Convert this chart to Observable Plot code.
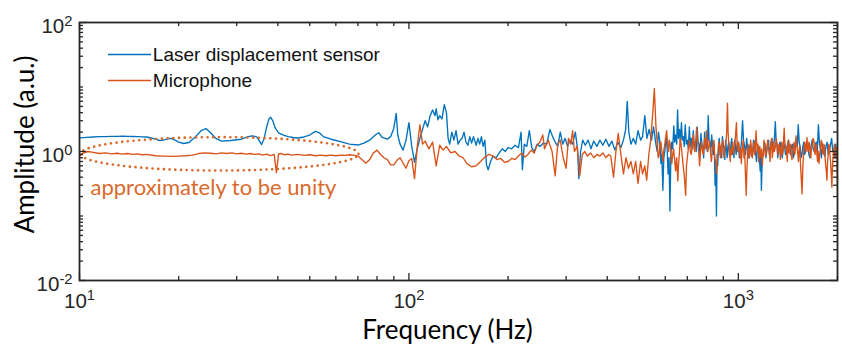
<!DOCTYPE html>
<html><head><meta charset="utf-8">
<script src="https://cdn.jsdelivr.net/npm/d3@7"></script>
<script src="https://cdn.jsdelivr.net/npm/@observablehq/plot@0.6"></script>
<style>html,body{margin:0;padding:0;background:#fff;} #chart{width:842px;height:354px;overflow:hidden;}</style>
</head><body><div id="chart"></div>
<script>
// Laser displacement sensor spectrum (frequency Hz, amplitude a.u.)
const laserHz = [10,10.5,11,11.5,12,12.5,13,13.5,14,14.5,15,15.5,16,16.5,17,17.5,18,18.5,19,19.5,20,20.7,21.5,22.5,23.4,24.2,25,26,27,28.8,30,31,32.5,33.5,34.5,35.2,35.7,36.3,37,37.6,38,38.6,39.3,40.2,41.6,43,44.5,46,48,50,52,53.5,55,58,62,66,70,73,76,79,81,83,86,88,90,91.5,92.5,94,96,98,100,102,104,106,108,110,112,114,116,118,120,121,122.5,124,126,128,130,131.5,133,135,137,139,141,143,145,147,149,151,153,155,157,160,162,164,166,168,170,172,174,177,180,184,188,192,196,200,205,210,215,219,221,224,228,232,236,240,245,250,256,262,268,273,278,283,288,293,298,303,308,314,320,325,328,332,337,343,350,357,364,372,380,388,396,405,413,422,431,440,448,455,460,465,472,480,488,496,505,512,520,528,536,545,553,
562,567,572,577,582,586,590,594,598,601,605,608,612,616,620,624,628,632,637,641,646,650,654,658,663,667,672,676,681,685,690,695,700,705,710,715,720,725,730,735,740,745,750,755,760,765,770,775,780,785,790,795,800,805,810,815,820,825,830,835,840,845,850,854,858,862,866,870,875,880,885,890,895,900,905,910,915,920,925,930,935,940,945,950,955,960,965,970,975,980,985,992,1000,1007,1015,1022,1030,1037,1045,1052,1060,1067,1075,1082,1090,1097,1105,1112,1120,1127,1135,1142,1150,1158,1165,1170,1175,1182,1190,1197,1205,1212,1220,1227,1235,1242,1250,1257,1265,1272,1280,1287,1295,1302,1310,1317,1325,1332,1340,1350,1360,1370,1380,1390,1400,1410,1420,1430,1440,1450,1460,1470,1480,1490,1500,1510,1520,1530,1540,1550,1560,1570,1580,1590,1600,1612,1625,1637,1650,1662,1675,1687,1700,1712,1725,1737,1750,1762,1775,1787,1800,1815,1830,1845,1860,1875,1890,1905,1920,1935,1950,1962,1975,1988,2000];
const laserAmp = [1.63,1.66,1.68,1.70,1.70,1.72,1.72,1.73,1.72,1.71,1.70,1.69,1.68,1.62,1.55,1.48,1.50,1.58,1.60,1.50,1.40,1.33,1.38,1.70,2.10,2.27,1.95,1.58,1.45,1.48,1.52,1.55,1.70,1.75,1.68,1.45,1.28,1.55,2.4,3.2,3.4,3.0,2.3,1.95,1.8,1.7,1.65,1.62,1.68,1.80,2.05,1.95,1.70,1.55,1.42,1.30,1.26,1.35,1.50,1.80,1.95,1.65,1.55,1.70,2.3,3.9,1.8,1.30,1.05,1.5,2.8,1.2,0.68,1.1,1.6,2.2,3.0,2.4,3.6,4.4,3.6,4.6,3.1,3.6,3.2,5.3,4.0,1.6,1.3,2.0,1.5,2.1,1.3,1.5,1.6,2.0,1.4,1.25,1.7,1.35,1.7,1.25,1.6,1.3,1.7,1.2,1.5,0.62,0.52,0.7,0.85,0.8,0.95,1.1,1.0,1.15,1.1,1.25,1.15,2.0,0.52,1.3,1.2,2.1,1.15,1.0,1.3,1.2,1.35,1.3,2.2,1.7,1.4,1.2,2.0,1.3,1.6,1.2,1.5,1.3,2.0,1.1,0.38,1.0,1.5,1.25,1.5,1.1,1.45,1.2,1.5,1.25,1.55,1.2,1.45,1.05,1.4,1.15,1.5,2.2,6.0,2.0,1.3,1.6,1.3,2.1,1.5,1.7,3.6,1.6,2.2,1.5,2.4,
1.3,1.0,2.0,1.5,0.65,0.9,0.25,0.8,1.0,1.3,1.6,1.1,0.45,0.8,0.12,0.9,1.4,1.1,2.5,1.4,1.8,1.3,4.4,1.6,2.2,1.4,2.8,1.5,1.7,1.2,2.6,1.3,1.5,1.1,2.4,1.2,1.6,1.1,2.1,1.2,1.4,1.0,2.4,1.4,1.3,0.9,1.9,1.3,1.2,0.8,2.0,1.2,1.3,1.0,3.6,1.5,1.4,1.0,1.8,1.2,0.9,1.3,0.3,0.7,0.10,0.9,0.6,1.2,1.6,0.9,1.2,0.8,1.7,1.3,1.1,0.75,1.5,1.1,0.8,1.2,1.4,0.85,1.0,1.3,1.6,0.9,1.1,0.8,1.5,1.2,0.9,1.3,1.4,0.8,1.0,1.4,3.0,1.5,1.2,0.9,1.6,1.1,0.8,1.2,1.3,0.85,1.0,1.5,1.4,1.0,0.7,1.1,1.2,0.8,0.5,0.9,0.25,0.8,0.9,1.4,1.3,0.8,1.0,1.3,1.5,0.9,1.1,1.4,1.6,1.0,1.2,1.6,2.9,1.5,1.3,0.8,1.0,1.3,1.4,1.0,0.8,1.2,1.3,0.9,1.0,1.3,1.5,1.1,0.9,1.2,1.3,0.8,1.0,1.3,1.6,1.2,2.6,1.4,1.2,0.8,0.9,1.2,1.4,0.9,1.0,1.4,1.3,0.9,0.8,1.2,1.5,1.1,1.0,1.3,1.4,1.0,2.6,1.4,1.1,0.8,1.3,1.0,0.85,1.2,1.4,0.9,1.0,1.3,1.6,1.0,1.1,0.8,1.3,0.9,1.0];

// Microphone spectrum (frequency Hz, amplitude a.u.)
const micHz = [10,10.3,10.6,11,11.5,12,12.5,13,13.5,14,14.5,15,15.5,16,17,18,19,20,21,22,23,24,25,26,27,28,29,30,31,32,33,34,35,36,37,38,39,39.6,40.2,41,42,43,44,46,48,50,52,54,56,58,60,62,64,66,68,70,72,74,76,78,80,82,84,86,88,90,92,94,96,98,100,102,104,106,108,110,112,115,118,121,124,127,130,134,138,142,146,150,155,160,165,170,175,180,185,190,195,200,205,210,215,220,225,230,235,240,245,250,255,258,265,272,278,283,288,294,300,305,310,314,318,324,330,336,342,348,356,364,372,380,388,396,404,410,418,425,432,440,448,456,464,472,480,488,496,505,512,520,527,535,542,550,556,562,
568,571,575,578,582,586,590,593,597,601,606,610,614,617,621,624,628,632,636,640,645,650,655,658,662,666,670,675,680,686,692,696,700,705,711,715,720,725,730,734,738,742,747,751,755,759,763,768,773,777,782,786,790,795,800,804,808,813,818,823,828,833,838,843,848,853,858,863,868,873,878,882,887,891,896,900,905,910,915,921,927,931,935,940,945,949,953,957,962,967,972,979,987,991,995,1000,1005,1009,1013,1017,1021,1025,1030,1035,1040,1045,1050,1053,1057,1061,1065,1070,1075,1080,1085,1090,1094,1098,1103,1109,1115,1120,1124,1128,1132,1137,1142,1147,1152,1157,1162,1167,1172,1177,1182,1187,1192,1197,1202,1208,1215,1222,1228,1235,1242,1248,1255,1262,1268,1274,1280,1286,1292,1298,1304,1311,1318,1324,1330,1336,1342,1348,1355,1360,1366,1372,1378,1384,1390,1396,1402,1408,1414,1420,1426,1433,1440,1447,1455,1462,1470,1477,1484,1490,1497,1503,1510,1516,1522,1528,1535,1541,1548,1554,1561,1568,1575,1582,1590,1597,1605,1610,1616,1623,1630,1637,1645,1652,1660,1667,1675,1686,1697,1703,1710,1717,1725,1732,1740,1748,1757,1766,1775,1784,1794,1802,1810,1818,1826,1834,1842,1850,1858,1866,1875,1882,1890,1897,1905,1914,1923,1931,1940,1949,1958,1966,1975,1983,1991,2000];
const micAmp = [0.88,0.95,1.0,0.97,0.93,0.95,0.92,0.94,0.91,0.93,0.90,0.92,0.89,0.90,0.86,0.85,0.84,0.85,0.86,0.88,0.93,0.95,0.94,0.92,0.95,0.93,0.95,0.92,0.94,0.91,0.93,0.90,0.92,0.88,0.91,0.86,0.90,0.47,0.92,0.93,0.89,0.91,0.88,0.90,0.87,0.89,0.86,0.88,0.86,0.88,0.86,0.88,0.87,0.89,0.88,0.85,0.75,0.66,0.75,0.95,1.05,0.9,0.80,0.75,0.62,0.62,0.73,0.80,0.66,0.55,0.72,0.78,0.38,1.2,2.6,1.3,1.45,1.1,1.4,0.6,1.25,1.05,1.2,0.95,1.0,0.85,0.8,0.65,0.58,0.6,0.7,0.82,0.9,0.85,0.75,0.78,0.68,0.7,0.78,0.75,0.85,0.95,0.82,0.9,1.05,0.95,1.25,1.4,1.8,1.1,1.5,1.0,0.42,1.3,1.5,0.8,0.55,1.6,1.3,2.1,1.0,1.2,0.42,0.9,1.0,0.85,0.95,0.8,0.9,0.85,0.95,0.8,0.9,0.85,0.4,1.0,1.9,0.9,0.45,0.8,0.55,0.7,0.45,0.7,0.32,0.7,0.45,0.6,0.36,0.9,1.5,4.0,9.5,2.5,
1.2,0.8,0.9,1.3,1.4,1.0,0.7,1.0,1.2,1.6,2.1,1.3,1.0,1.5,1.3,0.9,0.65,0.9,1.1,0.8,0.5,0.8,0.35,0.6,0.9,1.6,1.3,0.9,0.6,0.4,0.21,0.6,0.8,1.1,1.5,1.0,0.9,1.3,1.8,1.1,1.0,1.4,2.35,1.5,1.2,0.9,0.6,1.0,1.4,1.1,0.9,1.2,1.6,1.1,2.1,1.3,1.0,1.2,1.5,1.0,0.7,0.95,1.2,1.5,0.8,0.7,0.45,0.7,0.9,1.4,1.3,0.8,1.0,1.3,1.5,1.0,0.8,1.1,1.3,1.8,5.6,2.0,1.4,1.0,0.7,1.1,0.9,1.2,1.4,0.9,1.1,1.6,2.8,1.4,1.0,1.4,1.3,0.9,0.8,1.1,0.65,0.9,1.2,1.5,0.8,1.1,0.5,0.35,0.21,0.5,0.7,1.3,1.1,0.8,0.9,1.5,1.2,0.9,0.8,1.1,1.4,0.9,1.0,1.4,2.1,1.3,1.0,1.3,0.7,1.0,1.2,0.9,0.8,1.1,0.6,0.8,1.0,1.5,1.3,0.85,0.9,1.2,1.5,1.1,1.0,0.7,1.3,1.6,0.8,1.0,1.4,1.0,1.1,1.3,1.6,1.2,0.9,1.2,1.3,1.0,0.75,1.1,1.4,0.9,1.0,1.5,2.3,1.4,1.1,1.2,0.9,0.7,1.3,1.5,0.95,1.2,1.3,0.9,0.75,1.0,1.2,1.4,0.9,1.1,1.75,1.3,1.1,0.9,0.7,1.0,1.2,0.8,0.5,0.35,0.22,0.5,0.8,1.1,1.4,1.2,1.0,1.3,1.65,1.1,1.0,1.4,1.3,0.9,0.8,1.1,1.2,1.6,1.45,1.0,0.9,1.2,1.3,0.9,0.7,1.0,0.65,0.9,1.1,1.5,1.4,1.0,0.9,1.3,1.2,0.8,0.6,0.5,0.36,0.7,0.9,1.3,1.2,0.9,0.7,0.45,0.28,0.6,0.9,1.1,1.3,1.0,0.8,1.0,1.15,0.2];

const seriesNames = ["Laser displacement sensor", "Microphone"];
const seriesColors = ["#0072BD", "#D95319"];

// Axis ticks and labels
const xMajorTicks = [10, 100, 1000];
const xMajorLabels = ["10^1", "10^2", "10^3"];
const xMinorTicks = [20,30,40,50,60,70,80,90,200,300,400,500,600,700,800,900,2000];
const yMajorTicks = [0.01, 1, 100];
const yMajorLabels = ["10^-2", "10^0", "10^2"];
const yMinorTicks = [0.02,0.03,0.04,0.05,0.06,0.07,0.08,0.09,0.1,0.2,0.3,0.4,0.5,0.6,0.7,0.8,0.9,2,3,4,5,6,7,8,9,10,20,30,40,50,60,70,80,90];

// Annotation: dotted ellipse around the flat microphone band (log-space ellipse)
const annotationText = "approximately to be unity";
const ellipseCenterHz = 26.6, ellipseCenterAmp = 0.92, ellipseRxDecades = 0.422, ellipseRyDecades = 0.259;
const annotationColor = "#DA6A2C";

const laser = laserHz.map((f, i) => ({f, a: laserAmp[i]}));
const mic = micHz.map((f, i) => ({f, a: micAmp[i]}));
const ellipse = d3.range(0, 361, 2).map(deg => {
  const t = deg * Math.PI / 180;
  return {f: 10 ** (Math.log10(ellipseCenterHz) + ellipseRxDecades * Math.cos(t)),
          a: 10 ** (Math.log10(ellipseCenterAmp) + ellipseRyDecades * Math.sin(t))};
});
const legend = [
  {name: seriesNames[0], color: seriesColors[0], a: 31.9},
  {name: seriesNames[1], color: seriesColors[1], a: 12.6}
];

const W = 842, H = 354, mL = 79, mR = 5, mT = 22, mB = 74;
const iw = W - mL - mR, ih = H - mT - mB;
const axisColor = "#262626";
const tickFont = "'Liberation Sans', Arial, sans-serif";
const titleFont = "Lato, 'Open Sans', sans-serif";

const chart = Plot.plot({
  width: W, height: H,
  marginLeft: mL, marginRight: mR, marginTop: mT, marginBottom: mB,
  style: {background: "#fff", overflow: "visible"},
  x: {type: "log", domain: [10, 2000], axis: null},
  y: {type: "log", domain: [0.01, 100], axis: null},
  marks: [
    Plot.line(laser, {x: "f", y: "a", stroke: seriesColors[0], strokeWidth: 1.35, clip: true}),
    Plot.line(mic, {x: "f", y: "a", stroke: seriesColors[1], strokeWidth: 1.35, clip: true}),
    Plot.line(ellipse, {x: "f", y: "a", stroke: annotationColor, strokeWidth: 2.6, strokeDasharray: "0.1 5.6", strokeLinecap: "round", clip: true}),
    Plot.text([annotationText], {x: () => 10.8, y: () => 0.277, textAnchor: "start", fill: annotationColor, fontSize: 22, fontFamily: titleFont}),
    // legend
    Plot.ruleY(legend, {y: "a", x1: () => 12.25, x2: () => 16.55, stroke: "color", strokeWidth: 1.35}),
    Plot.text(legend, {y: "a", x: () => 16.7, text: "name", textAnchor: "start", fontSize: 19, fontFamily: tickFont, fill: "#111"}),
    // ticks (inward, all four sides)
    Plot.ruleX(xMajorTicks, {x: d => d, insetTop: ih - 7, stroke: axisColor, strokeWidth: 1.3}),
    Plot.ruleX(xMajorTicks, {x: d => d, insetBottom: ih - 7, stroke: axisColor, strokeWidth: 1.3}),
    Plot.ruleX(xMinorTicks, {x: d => d, insetTop: ih - 4, stroke: axisColor, strokeWidth: 1.3}),
    Plot.ruleX(xMinorTicks, {x: d => d, insetBottom: ih - 4, stroke: axisColor, strokeWidth: 1.3}),
    Plot.ruleY(yMajorTicks, {y: d => d, insetRight: iw - 7, stroke: axisColor, strokeWidth: 1.3}),
    Plot.ruleY(yMajorTicks, {y: d => d, insetLeft: iw - 7, stroke: axisColor, strokeWidth: 1.3}),
    Plot.ruleY(yMinorTicks, {y: d => d, insetRight: iw - 4, stroke: axisColor, strokeWidth: 1.3}),
    Plot.ruleY(yMinorTicks, {y: d => d, insetLeft: iw - 4, stroke: axisColor, strokeWidth: 1.3}),
    Plot.frame({stroke: axisColor, strokeWidth: 1.8}),
    // tick labels
    Plot.text(xMajorTicks, {x: d => d, text: (d, i) => xMajorLabels[i], frameAnchor: "bottom", dy: 27, fontSize: 20.5, fontFamily: tickFont, fill: axisColor}),
    Plot.text(yMajorTicks, {y: d => d, text: (d, i) => yMajorLabels[i], frameAnchor: "left", dx: -7, dy: 4, textAnchor: "end", fontSize: 20.5, fontFamily: tickFont, fill: axisColor}),
    // axis titles
    Plot.text(["Frequency (Hz)"], {frameAnchor: "bottom", dy: 58, dx: -11, textAnchor: "middle", fontSize: 26, fontFamily: titleFont, fill: "#000"}),
    Plot.text(["Amplitude (a.u.)"], {frameAnchor: "left", dx: -54, dy: -7, rotate: -90, textAnchor: "middle", fontSize: 26, fontFamily: titleFont, fill: "#000"})
  ]
});

// superscript exponents in tick labels
chart.querySelectorAll("text").forEach(t => {
  const m = /^10\^(-?\d+)$/.exec(t.textContent);
  if (!m) return;
  t.textContent = "10";
  const s = document.createElementNS("http://www.w3.org/2000/svg", "tspan");
  s.setAttribute("dy", "-0.5em");
  s.setAttribute("font-size", "0.72em");
  s.textContent = m[1];
  t.appendChild(s);
});
document.getElementById("chart").appendChild(chart);
</script>
</body></html>
